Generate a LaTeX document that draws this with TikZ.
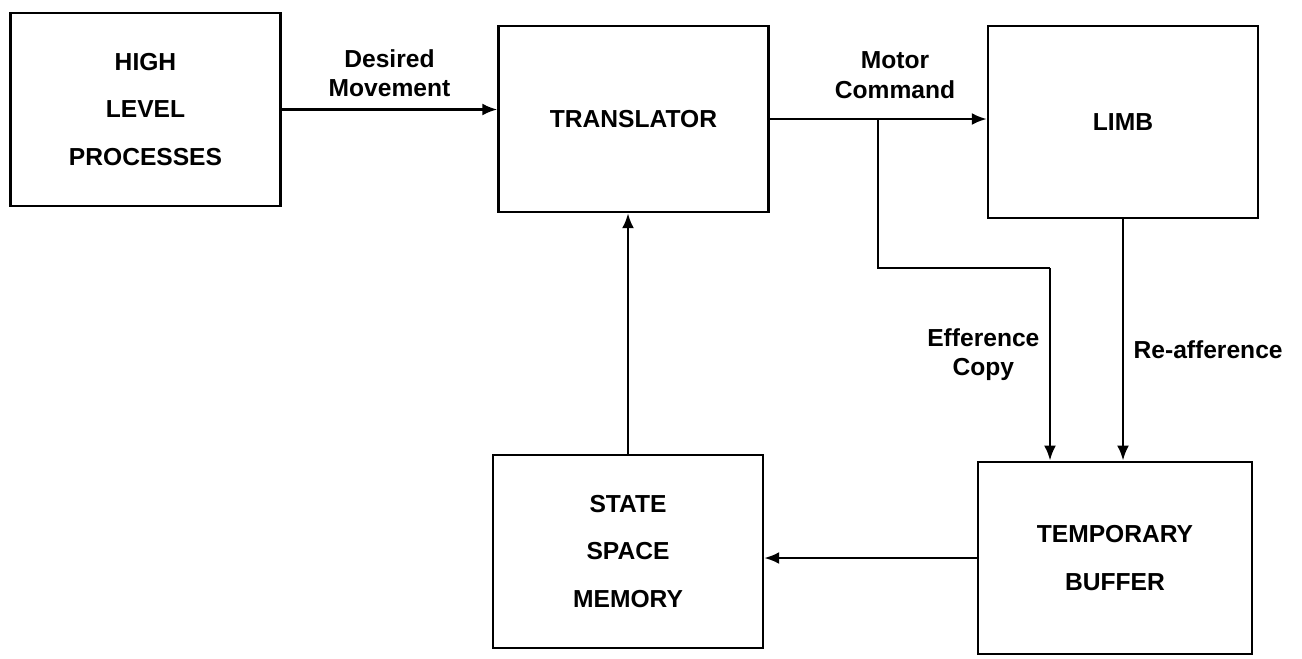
\documentclass[tikz,border=0pt]{standalone}
\usepackage{fontspec}
\setmainfont{Liberation Sans}
\usepackage{tikz}
\usetikzlibrary{calc}
\usetikzlibrary{arrows.meta}

\begin{document}
\begin{tikzpicture}[->,>={Latex[length=3mm,width=2.4mm]},line width=1.4pt,
    block/.style={draw,minimum width=5.4cm,minimum height=3.85cm,align=center,
      font=\fontsize{14}{27}\selectfont\bfseries},
    lbl/.style={align=center,font=\fontsize{14}{17}\selectfont\bfseries}]
      \useasboundingbox (0,0) rectangle (26.04,-13.16);
      \node[block] (hlp) at (2.91,-2.19)    {HIGH\\LEVEL\\PROCESSES};
      \node[block,minimum height=3.72cm] (trans) at (12.67,-2.38) {TRANSLATOR};
      \node[block] (limb) at (22.46,-2.44)  {LIMB};
      \node[block] (ssm) at (12.56,-11.03)  {STATE\\SPACE\\MEMORY};
      \node[block,minimum width=5.48cm] (buf) at (22.30,-11.16) {TEMPORARY\\BUFFER};
      \coordinate (split) at ($(trans.east -| 17.56,0)$);
      \coordinate (bend1) at (17.56,-5.36);
      \coordinate (bend2) at (21.0,-5.36);
      \path (hlp.east) edge node [lbl,above=3pt] {Desired\\Movement} (hlp.east -| trans.west);
      \draw (trans.east) -- (trans.east -| limb.west);
      \node[lbl] (mc) at (17.9,-1.5) {Motor\\Command};
      \draw[-] (split) -- (bend1) -- (bend2);
      \path (bend2) edge node [lbl,left=2pt,pos=0.45] {Efference\\Copy} (bend2 |- buf.north);
      \path (limb.south) edge node [lbl,right=2pt,pos=0.54] {Re-afference} (limb.south |- buf.north);
      \draw (buf.west) -- (buf.west -| ssm.east);
      \draw (ssm.north) -- (ssm.north |- trans.south);
    \end{tikzpicture}
\end{document}
